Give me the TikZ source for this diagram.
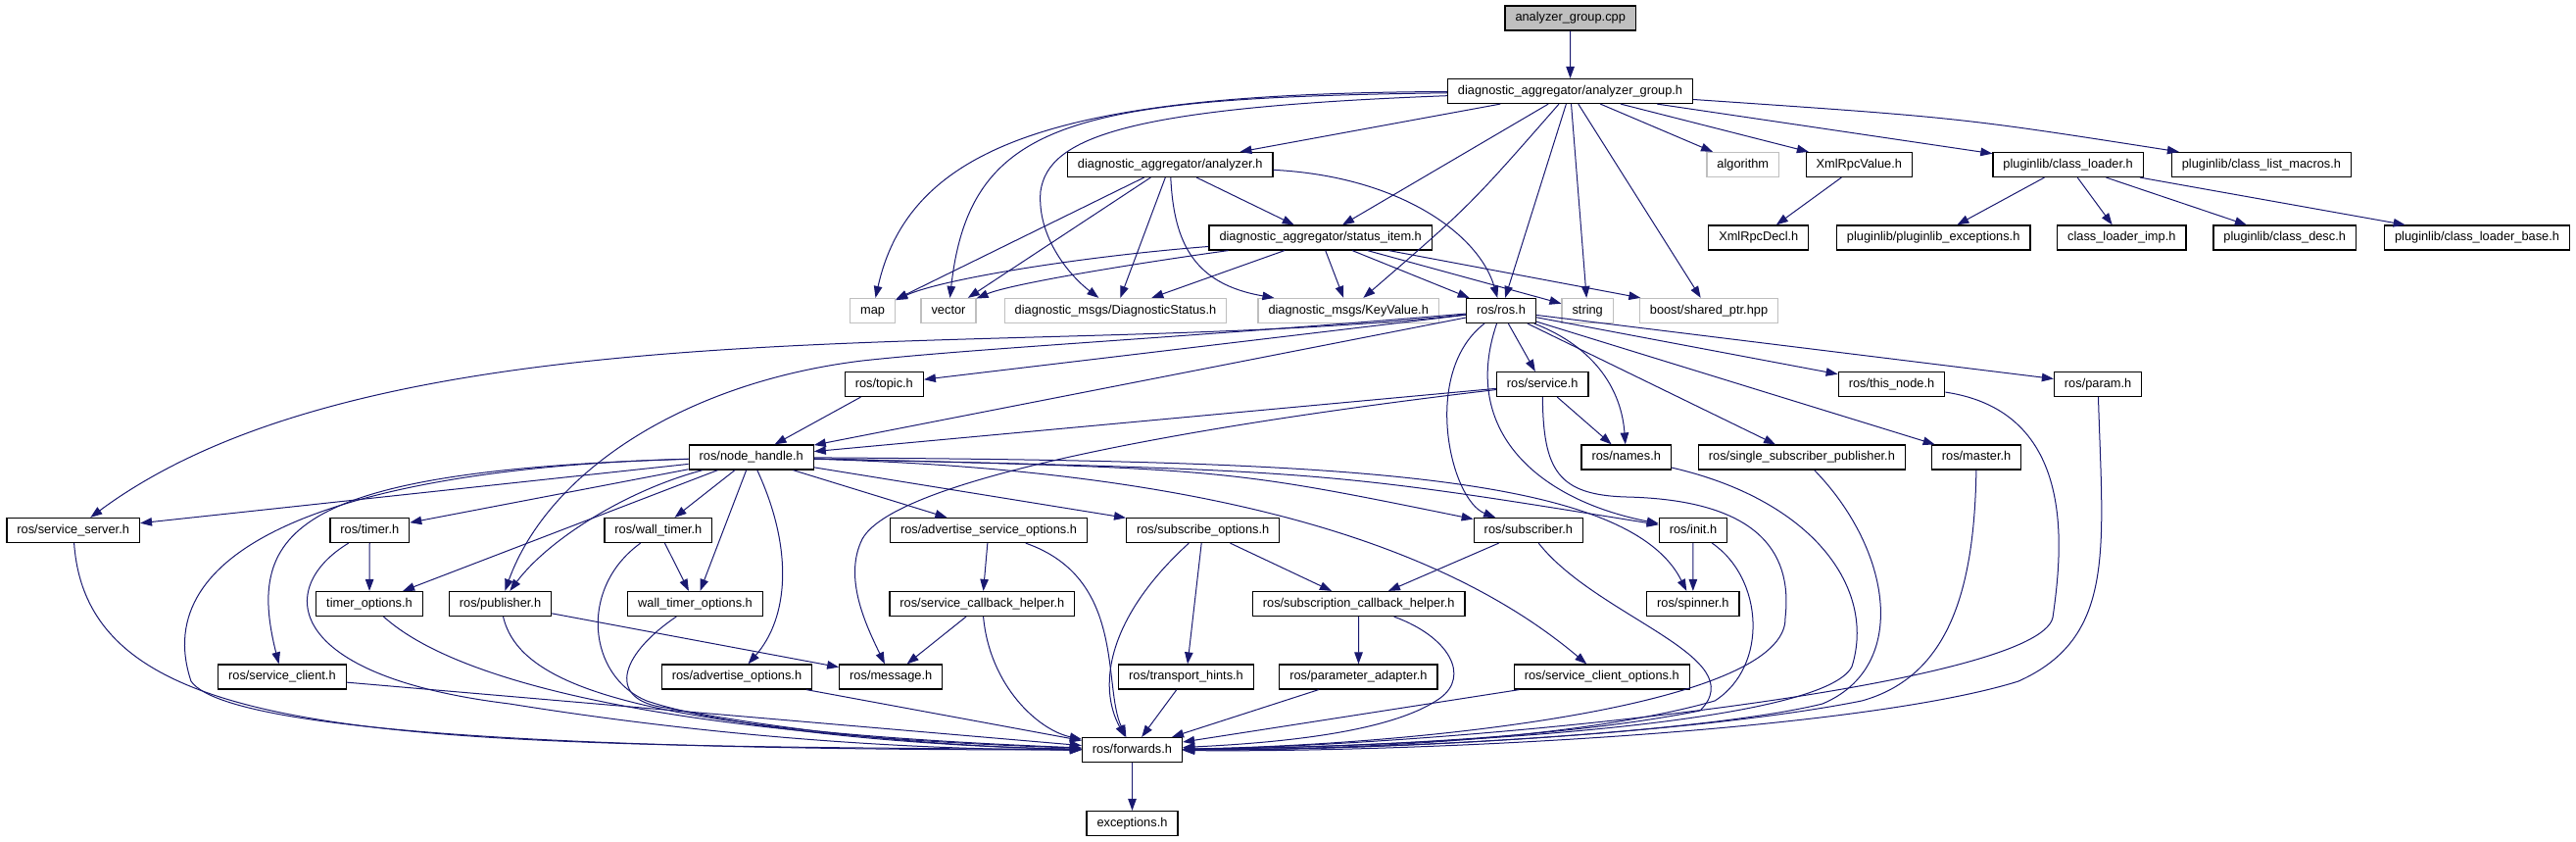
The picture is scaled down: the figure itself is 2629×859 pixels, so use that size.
\documentclass[tikz,border=0pt]{standalone}
\usepackage{fontspec}
\setmainfont{Liberation Sans}
\usetikzlibrary{arrows.meta}
\definecolor{edgeblue}{HTML}{191970}
\definecolor{sysgray}{HTML}{BFBFBF}
\tikzset{
  hdr/.style={draw=black, line width=1.2pt, fill=white, inner xsep=10.5pt, inner ysep=0pt,
    minimum height=25pt, text height=9.3pt, text depth=2.7pt, font=\fontsize{12.8}{15}\selectfont},
  sys/.style={hdr, draw=sysgray},
  srcfile/.style={hdr, fill=sysgray},
  dep/.style={draw=edgeblue, line width=1pt, -{Triangle[length=12pt,width=8.5pt]}},
}
\begin{document}
\begin{tikzpicture}[x=1pt,y=-1pt]
\useasboundingbox (0,0) rectangle (2629,859);
\node[srcfile] (cpp) at (1602.7,18.5) {analyzer\_group.cpp};
\node[hdr] (agh) at (1602.5,93) {diagnostic\_aggregator/analyzer\_group.h};
\node[hdr] (anh) at (1194.2,168) {diagnostic\_aggregator/analyzer.h};
\node[sys] (alg) at (1778.8,168) {algorithm};
\node[hdr] (xrv) at (1897.3,168) {XmlRpcValue.h};
\node[hdr] (cl) at (2110.6,168) {pluginlib/class\_loader.h};
\node[hdr] (clm) at (2307.9,168) {pluginlib/class\_list\_macros.h};
\node[hdr] (sth) at (1347.7,242.5) {diagnostic\_aggregator/status\_item.h};
\node[hdr] (xrd) at (1794.8,242.5) {XmlRpcDecl.h};
\node[hdr] (ple) at (1973.2,242.5) {pluginlib/pluginlib\_exceptions.h};
\node[hdr] (cli) at (2165.3,242.5) {class\_loader\_imp.h};
\node[hdr] (cd) at (2331.7,242.5) {pluginlib/class\_desc.h};
\node[hdr] (clb) at (2528,242.5) {pluginlib/class\_loader\_base.h};
\node[sys] (map) at (890.6,317) {map};
\node[sys] (vec) at (968,317) {vector};
\node[sys] (dst) at (1138.5,317) {diagnostic\_msgs/DiagnosticStatus.h};
\node[sys] (kv) at (1376.2,317) {diagnostic\_msgs/KeyValue.h};
\node[hdr] (ros) at (1532,317) {ros/ros.h};
\node[sys] (str) at (1620.2,317) {string};
\node[sys] (sp) at (1744,317) {boost/shared\_ptr.hpp};
\node[hdr] (topic) at (902.3,392) {ros/topic.h};
\node[hdr] (srv) at (1574.2,392) {ros/service.h};
\node[hdr] (tn) at (1930.5,392) {ros/this\_node.h};
\node[hdr] (par) at (2141.1,392) {ros/param.h};
\node[hdr] (nh) at (766.7,466.5) {ros/node\_handle.h};
\node[hdr] (nam) at (1659.7,466.5) {ros/names.h};
\node[hdr] (ssp) at (1838.9,466.5) {ros/single\_subscriber\_publisher.h};
\node[hdr] (mas) at (2017.1,466.5) {ros/master.h};
\node[hdr] (ss) at (74.7,541) {ros/service\_server.h};
\node[hdr] (tim) at (377.3,541) {ros/timer.h};
\node[hdr] (wt) at (671.9,541) {ros/wall\_timer.h};
\node[hdr] (aso) at (1009,541) {ros/advertise\_service\_options.h};
\node[hdr] (so) at (1227.7,541) {ros/subscribe\_options.h};
\node[hdr] (sub) at (1559.9,541) {ros/subscriber.h};
\node[hdr] (ini) at (1728,541) {ros/init.h};
\node[hdr] (tmo) at (377,616) {timer\_options.h};
\node[hdr] (pub) at (510.5,616) {ros/publisher.h};
\node[hdr] (wto) at (709.5,616) {wall\_timer\_options.h};
\node[hdr] (sch) at (1002.4,616) {ros/service\_callback\_helper.h};
\node[hdr] (sbch) at (1386.7,616) {ros/subscription\_callback\_helper.h};
\node[hdr] (spn) at (1727.8,616) {ros/spinner.h};
\node[hdr] (sc) at (287.9,690.5) {ros/service\_client.h};
\node[hdr] (ao) at (752,690.5) {ros/advertise\_options.h};
\node[hdr] (msg) at (909.2,690.5) {ros/message.h};
\node[hdr] (th) at (1210.5,690.5) {ros/transport\_hints.h};
\node[hdr] (pa) at (1386.4,690.5) {ros/parameter\_adapter.h};
\node[hdr] (sco) at (1634.8,690.5) {ros/service\_client\_options.h};
\node[hdr] (fwd) at (1155.5,765) {ros/forwards.h};
\node[hdr] (exc) at (1155.5,840) {exceptions.h};
\path[dep] (cpp) -- (agh);
\path[dep] (agh) .. controls (1100,95) and (930,140) .. (map);
\path[dep] (agh) .. controls (1100,100) and (990,120) .. (vec);
\path[dep] (agh) .. controls (1150,110) and (1070,140) .. (1062,195) .. controls (1058,240) and (1090,280) .. (dst);
\path[dep] (agh) -- (anh);
\path[dep] (agh) -- (sth);
\path[dep] (agh) .. controls (1500,210) .. (kv);
\path[dep] (agh) -- (ros);
\path[dep] (agh) -- (str);
\path[dep] (agh) -- (sp);
\path[dep] (agh) -- (alg);
\path[dep] (agh) -- (xrv);
\path[dep] (agh) -- (cl);
\path[dep] (agh) .. controls (2000,120) .. (clm);
\path[dep] (anh) -- (map);
\path[dep] (anh) -- (vec);
\path[dep] (anh) -- (dst);
\path[dep] (anh) .. controls (1198,250) and (1220,290) .. (kv);
\path[dep] (anh) -- (sth);
\path[dep] (anh) .. controls (1430,180) and (1510,240) .. (ros);
\path[dep] (sth) .. controls (1100,262) and (960,285) .. (map);
\path[dep] (sth) .. controls (1150,270) and (1030,290) .. (vec);
\path[dep] (sth) -- (dst);
\path[dep] (sth) -- (kv);
\path[dep] (sth) -- (ros);
\path[dep] (sth) -- (str);
\path[dep] (sth) -- (sp);
\path[dep] (xrv) -- (xrd);
\path[dep] (cl) -- (ple);
\path[dep] (cl) -- (cli);
\path[dep] (cl) -- (cd);
\path[dep] (cl) -- (clb);
\path[dep] (ros) -- (topic);
\path[dep] (ros) -- (nh);
\path[dep] (ros) .. controls (1050,370) and (400,300) .. (ss);
\path[dep] (ros) .. controls (1200,345) and (1000,355) .. (880,368) .. controls (700,390) and (560,480) .. (pub);
\path[dep] (ros) -- (srv);
\path[dep] (ros) .. controls (1630,355) and (1655,400) .. (nam);
\path[dep] (ros) .. controls (1450,380) and (1480,510) .. (sub);
\path[dep] (ros) .. controls (1490,440) and (1570,510) .. (ini);
\path[dep] (ros) -- (ssp);
\path[dep] (ros) -- (mas);
\path[dep] (ros) -- (tn);
\path[dep] (ros) -- (par);
\path[dep] (topic) -- (nh);
\path[dep] (srv) -- (nh);
\path[dep] (srv) .. controls (1250,430) and (915,485) .. (880,550) .. controls (860,590) and (885,640) .. (msg);
\path[dep] (srv) -- (nam);
\path[dep] (srv) .. controls (1575,480) and (1590,505) .. (1660,507) .. controls (1790,510) and (1830,560) .. (1822,630) .. controls (1825,720) and (1450,760) .. (fwd);
\path[dep] (tn) .. controls (2120,420) and (2105,560) .. (2095,630) .. controls (2080,700) and (1500,760) .. (fwd);
\path[dep] (par) .. controls (2146,560) and (2160,650) .. (2060,695) .. controls (1900,745) and (1450,768) .. (fwd);
\path[dep] (nam) .. controls (1850,510) and (1915,600) .. (1890,680) .. controls (1860,740) and (1450,762) .. (fwd);
\path[dep] (ssp) .. controls (1930,560) and (1950,680) .. (1860,718) .. controls (1750,745) and (1450,765) .. (fwd);
\path[dep] (mas) .. controls (2015,600) and (1990,690) .. (1900,715) .. controls (1750,745) and (1450,765) .. (fwd);
\path[dep] (nh) -- (ss);
\path[dep] (nh) -- (tim);
\path[dep] (nh) -- (wt);
\path[dep] (nh) .. controls (300,480) and (250,540) .. (sc);
\path[dep] (nh) .. controls (340,478) and (150,560) .. (195,695) .. controls (240,760) and (800,765) .. (fwd);
\path[dep] (nh) -- (tmo);
\path[dep] (nh) .. controls (640,500) and (560,550) .. (pub);
\path[dep] (nh) -- (wto);
\path[dep] (nh) .. controls (810,560) and (805,630) .. (ao);
\path[dep] (nh) -- (aso);
\path[dep] (nh) -- (so);
\path[dep] (nh) .. controls (1250,478) .. (sub);
\path[dep] (nh) .. controls (1350,480) .. (ini);
\path[dep] (nh) .. controls (1350,470) and (1660,480) .. (spn);
\path[dep] (nh) .. controls (1250,480) and (1480,560) .. (sco);
\path[dep] (ss) .. controls (90,760) and (400,760) .. (fwd);
\path[dep] (tim) -- (tmo);
\path[dep] (tim) .. controls (280,600) and (290,690) .. (520,718) .. controls (750,755) and (950,765) .. (fwd);
\path[dep] (wt) -- (wto);
\path[dep] (wt) .. controls (590,600) and (600,690) .. (660,715) .. controls (750,745) and (950,762) .. (fwd);
\path[dep] (tmo) .. controls (470,700) and (700,750) .. (fwd);
\path[dep] (wto) .. controls (630,670) and (620,715) .. (680,722) .. controls (800,745) and (950,762) .. (fwd);
\path[dep] (pub) -- (msg);
\path[dep] (pub) .. controls (530,700) and (650,745) .. (fwd);
\path[dep] (sc) -- (fwd);
\path[dep] (ao) -- (fwd);
\path[dep] (aso) -- (sch);
\path[dep] (aso) .. controls (1150,590) and (1125,700) .. (fwd);
\path[dep] (sch) -- (msg);
\path[dep] (sch) .. controls (1010,700) and (1060,745) .. (fwd);
\path[dep] (so) -- (th);
\path[dep] (so) -- (sbch);
\path[dep] (so) .. controls (1130,630) and (1120,700) .. (fwd);
\path[dep] (sub) -- (sbch);
\path[dep] (sub) .. controls (1630,630) and (1790,670) .. (1735,725) .. controls (1600,752) and (1400,762) .. (fwd);
\path[dep] (ini) -- (spn);
\path[dep] (ini) .. controls (1800,590) and (1805,680) .. (1750,715) .. controls (1620,752) and (1400,765) .. (fwd);
\path[dep] (sbch) -- (pa);
\path[dep] (sbch) .. controls (1480,650) and (1500,690) .. (1470,712) .. controls (1420,748) and (1300,758) .. (fwd);
\path[dep] (th) -- (fwd);
\path[dep] (pa) -- (fwd);
\path[dep] (sco) -- (fwd);
\path[dep] (fwd) -- (exc);
\end{tikzpicture}
\end{document}
